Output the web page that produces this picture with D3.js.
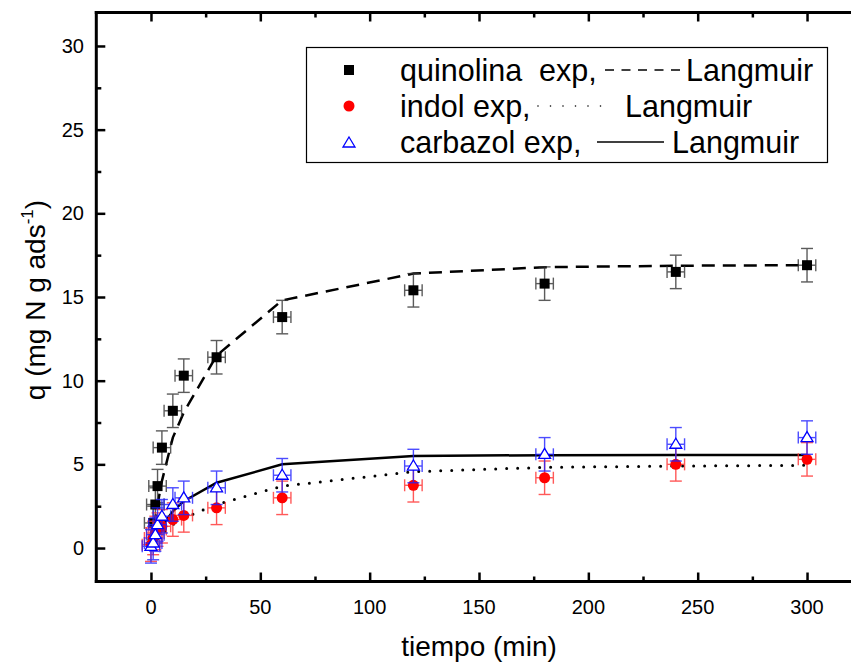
<!DOCTYPE html>
<html>
<head>
<meta charset="utf-8">
<script src="https://cdn.jsdelivr.net/npm/d3@7"></script>
<style>
  html, body { margin: 0; padding: 0; background: #fff; }
  svg { display: block; font-family: Arial, "Liberation Sans", Helvetica, sans-serif; }
</style>
</head>
<body>
<svg id="chart" width="851" height="663"></svg>
<script>
// Experimental adsorption kinetics (time in min, q in mg N / g adsorbent)
const quinolinaT = [1, 2, 3, 5, 10, 15, 30, 60, 120, 180, 240, 300];
const quinolinaQ = [1.5, 2.6, 3.7, 6.0, 8.2, 10.3, 11.4, 13.8, 15.4, 15.8, 16.5, 16.9];

const indolT = [0, 1, 2, 3, 5, 10, 15, 30, 60, 120, 180, 240, 300];
const indolQ = [0.2, 0.6, 0.9, 1.1, 1.3, 1.7, 1.95, 2.4, 3.0, 3.75, 4.2, 5.0, 5.3];

const carbazolT = [0, 1, 2, 3, 5, 10, 15, 30, 60, 120, 180, 240, 300];
const carbazolQ = [0.1, 0.3, 0.8, 1.4, 1.9, 2.6, 3.0, 3.6, 4.35, 4.9, 5.6, 6.2, 6.6];

// Error bar half-widths
const errQ = 1.0;   // mg N / g
const errT = 4;     // min

// Langmuir model curves
const modelT = [0, 1, 2, 3, 5, 10, 15, 30, 60, 120, 180, 240, 300];
const quinolinaFit = [0, 0.9, 1.8, 2.6, 4.0, 6.6, 8.1, 11.5, 14.8, 16.4, 16.78, 16.87, 16.9];
const indolFit     = [0, 0.2, 0.4, 0.55, 0.85, 1.4, 1.8, 2.6, 3.7, 4.56, 4.82, 4.9, 4.94];
const carbazolFit  = [0, 0.3, 0.55, 0.8, 1.3, 2.2, 2.8, 3.9, 5.0, 5.5, 5.55, 5.56, 5.56];

// Axis ticks
const xTicks = [0, 50, 100, 150, 200, 250, 300];
const xMinor = [25, 75, 125, 175, 225, 275];
const yTicks = [0, 5, 10, 15, 20, 25, 30];
const yMinor = [2.5, 7.5, 12.5, 17.5, 22.5, 27.5];

const svg = d3.select("#chart");

const x = d3.scaleLinear().domain([-25, 325]).range([96.3, 861.7]);
const y = d3.scaleLinear().domain([-2, 32]).range([581.5, 12.5]);

const plotLeft = x(-25), plotRight = x(325), plotTop = y(32), plotBottom = y(-2);

// Axes frame
const axisG = svg.append("g");
axisG.append("line").attr("x1", plotLeft).attr("x2", plotLeft).attr("y1", plotTop - 1.5).attr("y2", plotBottom + 1.5)
  .attr("stroke", "#000").attr("stroke-width", 3);
axisG.append("line").attr("x1", plotLeft - 1.5).attr("x2", plotRight).attr("y1", plotBottom).attr("y2", plotBottom)
  .attr("stroke", "#000").attr("stroke-width", 3);
axisG.append("line").attr("x1", plotLeft - 1.5).attr("x2", plotRight).attr("y1", plotTop).attr("y2", plotTop)
  .attr("stroke", "#000").attr("stroke-width", 3);

// Inward ticks via d3 axes
const xAxisBottom = d3.axisTop(x).tickValues(xTicks).tickSize(9).tickFormat("");
const xAxisBottomMinor = d3.axisTop(x).tickValues(xMinor).tickSize(5).tickFormat("");
const xAxisTop = d3.axisBottom(x).tickValues(xTicks).tickSize(9).tickFormat("");
const xAxisTopMinor = d3.axisBottom(x).tickValues(xMinor).tickSize(5).tickFormat("");
const yAxisLeft = d3.axisRight(y).tickValues(yTicks).tickSize(9).tickFormat("");
const yAxisLeftMinor = d3.axisRight(y).tickValues(yMinor).tickSize(5).tickFormat("");

function styleTicks(g) {
  g.select(".domain").remove();
  g.selectAll(".tick line").attr("stroke", "#000").attr("stroke-width", 2.5);
}
svg.append("g").attr("transform", `translate(0,${plotBottom})`).call(xAxisBottom).call(styleTicks);
svg.append("g").attr("transform", `translate(0,${plotBottom})`).call(xAxisBottomMinor).call(styleTicks);
svg.append("g").attr("transform", `translate(0,${plotTop})`).call(xAxisTop).call(styleTicks);
svg.append("g").attr("transform", `translate(0,${plotTop})`).call(xAxisTopMinor).call(styleTicks);
svg.append("g").attr("transform", `translate(${plotLeft},0)`).call(yAxisLeft).call(styleTicks);
svg.append("g").attr("transform", `translate(${plotLeft},0)`).call(yAxisLeftMinor).call(styleTicks);

// Tick labels
svg.append("g").selectAll("text").data(xTicks).join("text")
  .attr("x", d => x(d)).attr("y", 614)
  .attr("text-anchor", "middle").attr("font-size", 20).text(d => d);
svg.append("g").selectAll("text").data(yTicks).join("text")
  .attr("x", 84).attr("y", d => y(d) + 7)
  .attr("text-anchor", "end").attr("font-size", 20).text(d => d);

// Axis titles
svg.append("text").attr("x", 479).attr("y", 656).attr("text-anchor", "middle")
  .attr("font-size", 28).text("tiempo (min)");
const yTitle = svg.append("text")
  .attr("transform", "translate(45,300) rotate(-90)")
  .attr("text-anchor", "middle").attr("font-size", 28);
yTitle.append("tspan").text("q (mg N g ads");
yTitle.append("tspan").attr("font-size", 17).attr("dy", -12).text("-1");
yTitle.append("tspan").attr("dy", 12).text(")");

// Model curves
const line = d3.line().x(d => x(d[0])).y(d => y(d[1]));
const curves = [
  { t: modelT, q: quinolinaFit, dash: "13,8", cap: "butt" },
  { t: modelT, q: indolFit, dash: "0,11", cap: "round" },
  { t: modelT, q: carbazolFit, dash: null, cap: "butt" }
];
const curveG = svg.append("g");
curves.forEach(c => {
  curveG.append("path")
    .datum(c.t.map((t, i) => [t, c.q[i]]))
    .attr("d", line)
    .attr("fill", "none")
    .attr("stroke", "#000")
    .attr("stroke-width", c.cap === "round" ? 3 : 2.5)
    .attr("stroke-linecap", c.cap)
    .attr("stroke-dasharray", c.dash);
});

// Experimental series with error bars
const series = [
  { t: quinolinaT, q: quinolinaQ, color: "#000", errColor: "#333", shape: "square" },
  { t: indolT, q: indolQ, color: "#ff0000", errColor: "#ff3030", shape: "circle" },
  { t: carbazolT, q: carbazolQ, color: "#0000ff", errColor: "#2020ff", shape: "triangle" }
];

function drawMarker(g, shape, cx, cy, color) {
  if (shape === "square") {
    g.append("rect").attr("x", cx - 5).attr("y", cy - 5).attr("width", 10).attr("height", 10)
      .attr("fill", color);
  } else if (shape === "circle") {
    g.append("circle").attr("cx", cx).attr("cy", cy).attr("r", 5.5).attr("fill", color);
  } else {
    const h = 10, w = 12;
    g.append("path")
      .attr("d", `M${cx},${cy - h * 0.6}L${cx + w / 2},${cy + h * 0.4}L${cx - w / 2},${cy + h * 0.4}Z`)
      .attr("fill", "#fff").attr("stroke", color).attr("stroke-width", 1.3);
  }
}

const capHalf = 6;
series.forEach(s => {
  const pts = s.t.map((t, i) => ({ t, q: s.q[i] }));
  const g = svg.append("g");
  const eb = g.append("g").attr("stroke", s.errColor).attr("stroke-width", 1.4)
    .attr("opacity", 0.8).attr("fill", "none");
  pts.forEach(p => {
    const cx = x(p.t), cy = y(p.q);
    const y1 = y(p.q + errQ), y2 = y(p.q - errQ);
    const x1 = x(p.t - errT), x2 = x(p.t + errT);
    eb.append("line").attr("x1", cx).attr("x2", cx).attr("y1", y1).attr("y2", y2);
    eb.append("line").attr("x1", cx - capHalf).attr("x2", cx + capHalf).attr("y1", y1).attr("y2", y1);
    eb.append("line").attr("x1", cx - capHalf).attr("x2", cx + capHalf).attr("y1", y2).attr("y2", y2);
    eb.append("line").attr("x1", x1).attr("x2", x2).attr("y1", cy).attr("y2", cy);
    eb.append("line").attr("x1", x1).attr("x2", x1).attr("y1", cy - capHalf).attr("y2", cy + capHalf);
    eb.append("line").attr("x1", x2).attr("x2", x2).attr("y1", cy - capHalf).attr("y2", cy + capHalf);
  });
  const mk = g.append("g");
  pts.forEach(p => drawMarker(mk, s.shape, x(p.t), y(p.q), s.color));
});

// Legend
const lg = svg.append("g");
lg.append("rect").attr("x", 306.5).attr("y", 47.5).attr("width", 521).attr("height", 115)
  .attr("fill", "#fff").attr("stroke", "#000").attr("stroke-width", 1.2);
const fs = 30.5;
const legendRows = [
  { label: "quinolina  exp,", shape: "square", color: "#000", cy: 70,
    sample: { x1: 605, x2: 680, dash: "9,7.5", cap: "butt" }, fitX: 686 },
  { label: "indol exp,", shape: "circle", color: "#ff0000", cy: 106,
    sample: { x1: 538, x2: 612, dash: "0,12.5", cap: "round" }, fitX: 625 },
  { label: "carbazol exp,", shape: "triangle", color: "#0000ff", cy: 142,
    sample: { x1: 597, x2: 664, dash: null, cap: "butt" }, fitX: 672 }
];
legendRows.forEach(r => {
  drawMarker(lg, r.shape, 349, r.cy + (r.shape === "triangle" ? 1 : 0), r.color);
  lg.append("text").attr("x", 400).attr("y", r.cy + 11).attr("font-size", fs)
    .attr("xml:space", "preserve").text(r.label);
  lg.append("line").attr("x1", r.sample.x1).attr("x2", r.sample.x2)
    .attr("y1", r.cy).attr("y2", r.cy)
    .attr("stroke", "#000").attr("stroke-width", 1.6)
    .attr("stroke-linecap", r.sample.cap).attr("stroke-dasharray", r.sample.dash);
  lg.append("text").attr("x", r.fitX).attr("y", r.cy + 11).attr("font-size", fs).text("Langmuir");
});
</script>
</body>
</html>
